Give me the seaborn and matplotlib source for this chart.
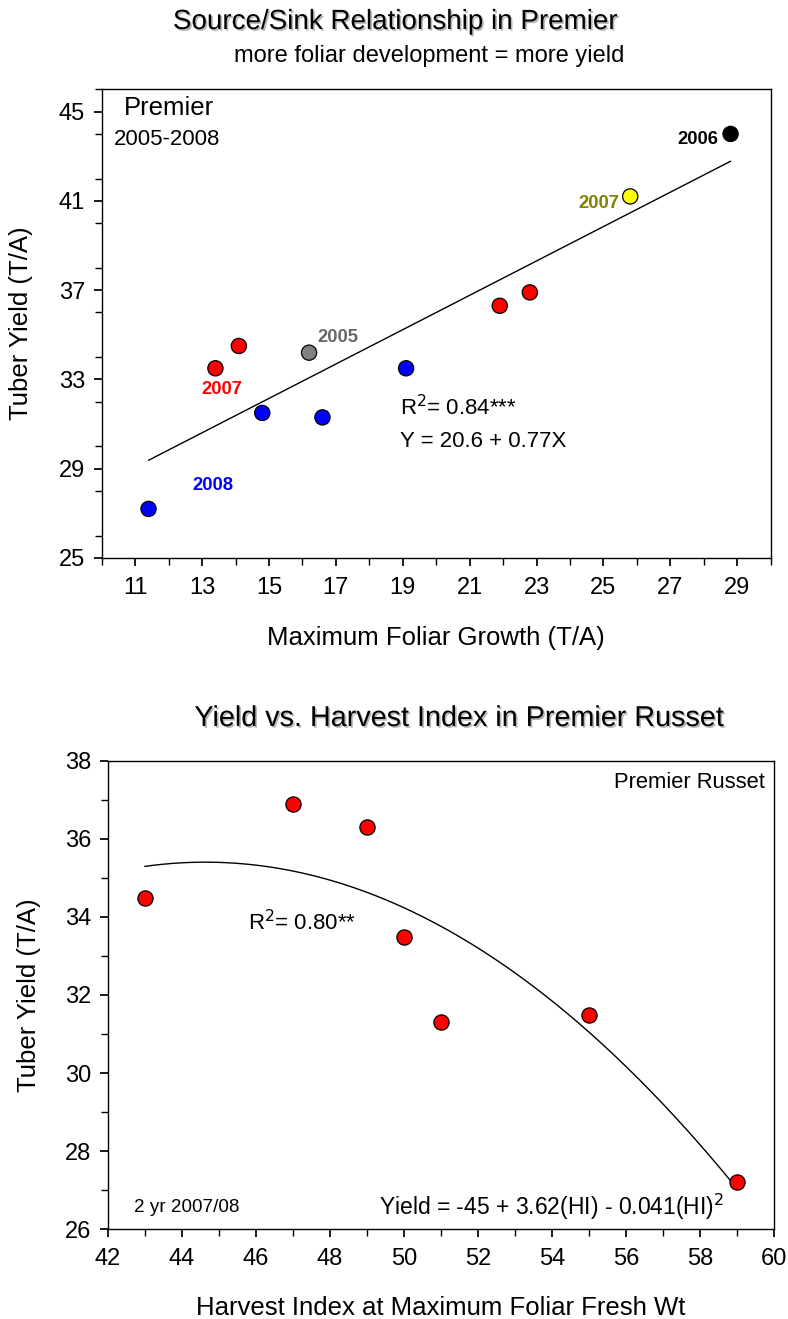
import numpy as np
import pandas as pd
import matplotlib
matplotlib.use("Agg")
import matplotlib.pyplot as plt
import matplotlib.patheffects as pe
from matplotlib.ticker import MultipleLocator
import seaborn as sns

# ---------------- data ----------------
# Top chart: Source/Sink relationship
foliar_growth = [11.4, 13.4, 14.1, 14.8, 16.2, 16.6, 19.1, 21.9, 22.8, 25.8, 28.8]
tuber_yield_top = [27.2, 33.5, 34.5, 31.5, 34.2, 31.3, 33.5, 36.3, 36.9, 41.2, 44.0]
point_colors_top = ["#0000ff", "#ff0000", "#ff0000", "#0000ff", "#808080", "#0000ff",
                    "#0000ff", "#ff0000", "#ff0000", "#ffff00", "#000000"]
reg_intercept = 20.6
reg_slope = 0.77

# Year labels (text, x, y, color)
year_labels = ["2006", "2007", "2005", "2007", "2008"]
year_label_x = [28.42, 24.87, 17.06, 13.6, 13.33]
year_label_y = [43.73, 40.9, 34.9, 32.53, 28.23]
year_label_colors = ["#000000", "#808000", "#666666", "#ff0000", "#0000ff"]
year_label_ha = ["right", "center", "center", "center", "center"]

# Bottom chart: Yield vs harvest index
harvest_index = [43, 47, 49, 50, 51, 55, 59]
tuber_yield_bottom = [34.5, 36.9, 36.3, 33.5, 31.3, 31.5, 27.2]

top_xticks = [11, 13, 15, 17, 19, 21, 23, 25, 27, 29]
top_yticks = [25, 29, 33, 37, 41, 45]
bot_xticks = [42, 44, 46, 48, 50, 52, 54, 56, 58, 60]
bot_yticks = [26, 28, 30, 32, 34, 36, 38]

# ---------------- style ----------------
sns.set_theme(style="ticks")
plt.rcParams["font.family"] = ["Liberation Sans", "DejaVu Sans"]
plt.rcParams["text.color"] = "black"
plt.rcParams["axes.labelcolor"] = "black"
plt.rcParams["xtick.color"] = "black"
plt.rcParams["ytick.color"] = "black"
plt.rcParams["axes.edgecolor"] = "black"
plt.rcParams["axes.linewidth"] = 1.0
plt.rcParams["xtick.major.size"] = 6
plt.rcParams["ytick.major.size"] = 6
plt.rcParams["xtick.minor.size"] = 5
plt.rcParams["ytick.minor.size"] = 5
plt.rcParams["xtick.major.pad"] = 8
plt.rcParams["ytick.major.pad"] = 6

W, H = 788, 1319
fig = plt.figure(figsize=(W / 100, H / 100), dpi=100)
fig.patch.set_facecolor("white")

def fx(px):
    return px / W

def fy(py):
    return 1 - py / H

shadow = [pe.SimplePatchShadow(offset=(1.2, -1.2), shadow_rgbFace="#999999", alpha=0.7), pe.Normal()]

TICK_FS = 17
LABEL_FS = 18.5

# ---------------- top chart ----------------
ax1 = fig.add_axes([fx(101.7), fy(558), fx(770.7) - fx(101.7), fy(89.3) - fy(558)])
df_top = pd.DataFrame({"x": foliar_growth, "y": tuber_yield_top, "c": point_colors_top})
xl = np.array([min(foliar_growth), max(foliar_growth)])
sns.lineplot(x=xl, y=reg_intercept + reg_slope * xl, ax=ax1, color="black", linewidth=1.0)
sns.scatterplot(data=df_top, x="x", y="y", ax=ax1, c=df_top["c"], s=120,
                edgecolor="black", linewidth=0.9, zorder=3)
ax1.set_xlim(10, 30)
ax1.set_ylim(25, 46)
ax1.set_xticks(top_xticks)
ax1.set_yticks(top_yticks)
ax1.xaxis.set_minor_locator(MultipleLocator(1))
ax1.yaxis.set_minor_locator(MultipleLocator(2))
ax1.tick_params(axis="both", which="major", labelsize=TICK_FS, direction="out")
ax1.tick_params(axis="both", which="minor", direction="out")
ax1.set_xlabel("Maximum Foliar Growth (T/A)", fontsize=LABEL_FS)
ax1.set_ylabel("Tuber Yield (T/A)", fontsize=LABEL_FS)
ax1.xaxis.set_label_coords(0.5, -0.145)
ax1.yaxis.set_label_coords(-0.103, 0.5)

ax1.text(0.033, 0.96, "Premier", transform=ax1.transAxes, fontsize=18.5, va="center", ha="left")
ax1.text(0.018, 0.892, "2005-2008", transform=ax1.transAxes, fontsize=16, va="center", ha="left")
for t, x, y, c, ha in zip(year_labels, year_label_x, year_label_y, year_label_colors, year_label_ha):
    ax1.text(x, y, t, color=c, fontsize=13.2, fontweight="bold", ha=ha, va="center")
ax1.text(18.92, 31.72, "R$^2$= 0.84***", fontsize=16, va="center", ha="left")
ax1.text(18.92, 30.24, "Y = 20.6 + 0.77X", fontsize=16, va="center", ha="left")

# ---------------- bottom chart ----------------
ax2 = fig.add_axes([fx(107.7), fy(1229), fx(774) - fx(107.7), fy(761) - fy(1229)])
coef = np.polyfit(harvest_index, tuber_yield_bottom, 2)
xc = np.linspace(min(harvest_index), max(harvest_index), 200)
sns.lineplot(x=xc, y=np.polyval(coef, xc), ax=ax2, color="black", linewidth=1.0)
sns.scatterplot(x=harvest_index, y=tuber_yield_bottom, ax=ax2, color="#ff0000", s=120,
                edgecolor="black", linewidth=0.9, zorder=3)
ax2.set_xlim(42, 60)
ax2.set_ylim(26, 38)
ax2.set_xticks(bot_xticks)
ax2.set_yticks(bot_yticks)
ax2.xaxis.set_minor_locator(MultipleLocator(1))
ax2.yaxis.set_minor_locator(MultipleLocator(1))
ax2.tick_params(axis="both", which="major", labelsize=TICK_FS, direction="out")
ax2.tick_params(axis="both", which="minor", direction="out")
ax2.set_xlabel("Harvest Index at Maximum Foliar Fresh Wt", fontsize=LABEL_FS)
ax2.set_ylabel("Tuber Yield (T/A)", fontsize=LABEL_FS)
ax2.xaxis.set_label_coords(0.5, -0.143)
ax2.yaxis.set_label_coords(-0.100, 0.5)

ax2.text(0.9865, 0.953, "Premier Russet", transform=ax2.transAxes, fontsize=15.8, va="center", ha="right")
ax2.text(0.2106, 0.654, "R$^2$= 0.80**", transform=ax2.transAxes, fontsize=16, va="center", ha="left")
ax2.text(0.0395, 0.047, "2 yr 2007/08", transform=ax2.transAxes, fontsize=13.6, va="center", ha="left")
ax2.text(0.407, 0.047, "Yield = -45 + 3.62(HI) - 0.041(HI)$^2$", transform=ax2.transAxes,
         fontsize=16.5, va="center", ha="left")

# ---------------- titles ----------------
fig.text(fx(395), fy(22), "Source/Sink Relationship in Premier", fontsize=20,
         ha="center", va="center", path_effects=shadow)
fig.text(fx(429), fy(56), "more foliar development = more yield", fontsize=17,
         ha="center", va="center")
fig.text(fx(459), fy(718), "Yield vs. Harvest Index in Premier Russet", fontsize=20.7,
         ha="center", va="center", path_effects=shadow)

fig.savefig("out.png", dpi=100, facecolor="white")
